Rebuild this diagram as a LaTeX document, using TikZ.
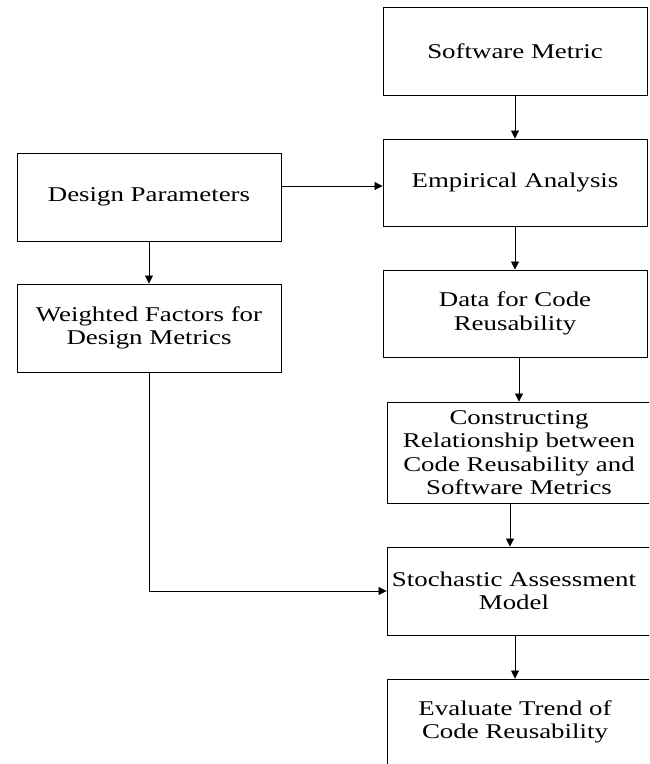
\documentclass[tikz,border=0pt]{standalone}
\usepackage{fontspec}
\setmainfont{Liberation Serif}[FakeStretch=1.28]
\usetikzlibrary{arrows.meta}
\begin{document}
\begin{tikzpicture}[x=1pt,y=-1pt,
  txt/.style={font=\fontsize{21}{23.5}\selectfont},
  box/.style={draw=black, line width=0.9pt, rectangle, inner sep=0pt, align=center, txt},
  lbl/.style={align=center, inner sep=0pt, txt},
  arr/.style={draw=black, line width=0.8pt, -{Triangle[length=8pt,width=8pt]}}]
\useasboundingbox (0,0) rectangle (649,764);
\clip (0,0) rectangle (649,764);

\node[box, minimum width=264pt, minimum height=88pt] (sm) at (515,51) {Software Metric};
\node[box, minimum width=264pt, minimum height=87pt] (ea) at (515,182.5) {Empirical Analysis};
\node[box, minimum width=264pt, minimum height=88pt] (dp) at (149,197) {Design Parameters};
\node[box, minimum width=264pt, minimum height=88pt] (wf) at (149,328) {Weighted Factors for\\Design Metrics};
\node[box, minimum width=264pt, minimum height=87pt] (dc) at (515,313.5) {Data for Code\\Reusability};
\node[box, minimum width=264pt, minimum height=101pt] (cr) at (519,452.5) {Constructing\\Relationship between\\Code Reusability and\\Software Metrics};
\node[box, minimum width=280pt, minimum height=88pt] (sa) at (527,591) {};
\node[lbl] (sat) at (514,591) {Stochastic Assessment\\Model};
\node[box, minimum width=280pt, minimum height=90pt] (et) at (527,724) {};
\node[lbl] (ett) at (515,722) {Evaluate Trend of\\Code Reusability};

\draw[arr] (sm.south) -- (ea.north);
\draw[arr] (ea.south) -- (dc.north);
\draw[arr] (cr.north |- dc.south) -- (cr.north);
\draw[arr] ([xshift=-9pt]cr.south) coordinate (c1) -- (c1 |- sa.north);
\draw[arr] (ett |- sa.south) -- (ett |- et.north);
\draw[arr] (dp.south) -- (wf.north);
\draw[arr] ([yshift=11pt]dp.east) coordinate (h) -- (h -| ea.west);
\draw[arr] (wf.south) |- (sa.west);
\end{tikzpicture}
\end{document}
